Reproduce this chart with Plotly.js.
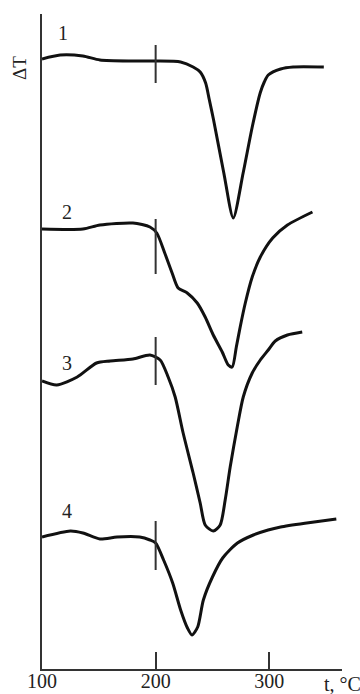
<!DOCTYPE html>
<html>
<head>
<meta charset="utf-8">
<script src="https://cdn.plot.ly/plotly-3.0.1.min.js"></script>
<style>html,body{margin:0;padding:0;background:#fff;}#chart{width:360px;height:694px;}</style>
</head>
<body>
<div id="chart"></div>
<script>
// Temperature (°C) and ΔT (arbitrary units)
const t1 = [100, 116, 136, 151, 180, 200, 222, 233, 239.2, 244, 247.1, 251, 260, 268.3, 277, 285, 292, 295.6, 299.1, 310, 321, 348];
const dT1 = [610, 614, 613, 609, 608, 608, 607, 602, 597, 586, 570, 549, 496, 451, 496, 542, 576, 587, 594, 600, 602, 602];

const t2 = [100, 136, 151, 180, 195, 201, 208, 214.5, 219.8, 227.8, 236.6, 243.6, 250.7, 258.6, 263.9, 267.4, 271, 274.4, 278.9, 285, 292.1, 303, 316, 338];
const dT2 = [440, 440, 444, 446, 442, 436, 416, 396, 381, 376, 366, 352, 334, 317, 304, 302, 322, 342, 366, 392, 412, 431, 444, 457];

const t3 = [100, 113, 131, 148, 160, 180, 195, 204, 211, 217.2, 224.2, 233, 239.2, 243.6, 250.7, 256.8, 261.2, 265.6, 271.8, 277.1, 285, 292.1, 299.1, 305.3, 316, 329];
const dT3 = [288, 284, 292, 306, 308, 310, 314, 309, 292, 272, 236, 196, 166, 144, 138, 144, 169, 202, 242, 272, 296, 309, 319, 328, 334, 337];

const t4 = [100, 125, 136, 151, 166, 186, 195, 200, 207, 215, 222, 228, 232, 237, 242, 250, 259, 272, 286, 299, 310, 333, 359];
const dT4 = [132, 138, 136, 130, 132, 132, 129, 126, 109, 86, 59, 41, 34, 42, 69, 92, 111, 126, 134, 139, 142, 146, 150];

// reference marks at 200 °C on each curve: [low, high] in ΔT units
const markT = 200;
const markRanges = [[586, 624], [395, 450], [284, 332], [99, 148]];

// curve numbers and their positions
const curveNames = ['1', '2', '3', '4'];
const nameT = [118.5, 122, 122, 122];
const nameY = [636, 457, 306, 158];

// axis ticks
const tickVals = [100, 200, 300];
const tickText = ['100', '200', '300'];

const series = [[t1, dT1], [t2, dT2], [t3, dT3], [t4, dT4]];
const traces = [];
series.forEach(([x, y]) => {
  traces.push({x: x, y: y, mode: 'lines', type: 'scatter',
    line: {color: '#111', width: 3, shape: 'spline', smoothing: 0.7},
    hoverinfo: 'skip', showlegend: false});
});
markRanges.forEach(r => {
  traces.push({x: [markT, markT], y: r, mode: 'lines', type: 'scatter',
    line: {color: '#333', width: 2}, hoverinfo: 'skip', showlegend: false});
});

const serif = 'Liberation Serif, Times New Roman, serif';
const W = 360, H = 694, L = 42, R = 18, T = 14, B = 25;
const pw = W - L - R, ph = H - T - B;

const annotations = curveNames.map((n, i) => ({
  x: nameT[i], y: nameY[i], xref: 'x', yref: 'y', text: n, showarrow: false,
  font: {family: serif, size: 20, color: '#222'}
}));
annotations.push({x: (20 - L) / pw, y: (H - B - 68) / ph, xref: 'paper', yref: 'paper', text: 'ΔT', textangle: -90,
  showarrow: false, font: {family: serif, size: 19, color: '#222'}, xanchor: 'center', yanchor: 'middle'});
annotations.push({x: (342 - L) / pw, y: (H - B - 684) / ph, xref: 'paper', yref: 'paper', text: 't, °C', showarrow: false,
  font: {family: serif, size: 20, color: '#222'}, xanchor: 'center', yanchor: 'middle'});

const layout = {
  width: W, height: H,
  margin: {l: L, r: R, t: T, b: B, pad: 0},
  paper_bgcolor: '#fff', plot_bgcolor: '#fff',
  xaxis: {range: [100, 364], showgrid: false, zeroline: false, showline: true,
    linecolor: '#333', linewidth: 2, ticks: 'inside', ticklen: 17, tickwidth: 2, tickcolor: '#333',
    tickvals: tickVals, ticktext: tickText, ticklabelstandoff: -7,
    tickfont: {family: serif, size: 20, color: '#222'}, fixedrange: true},
  yaxis: {range: [0, 655], showgrid: false, zeroline: false, showline: true,
    linecolor: '#333', linewidth: 2, ticks: '', showticklabels: false, fixedrange: true},
  annotations: annotations,
  showlegend: false
};
Plotly.newPlot('chart', traces, layout, {displayModeBar: false, staticPlot: true});
</script>
</body>
</html>
